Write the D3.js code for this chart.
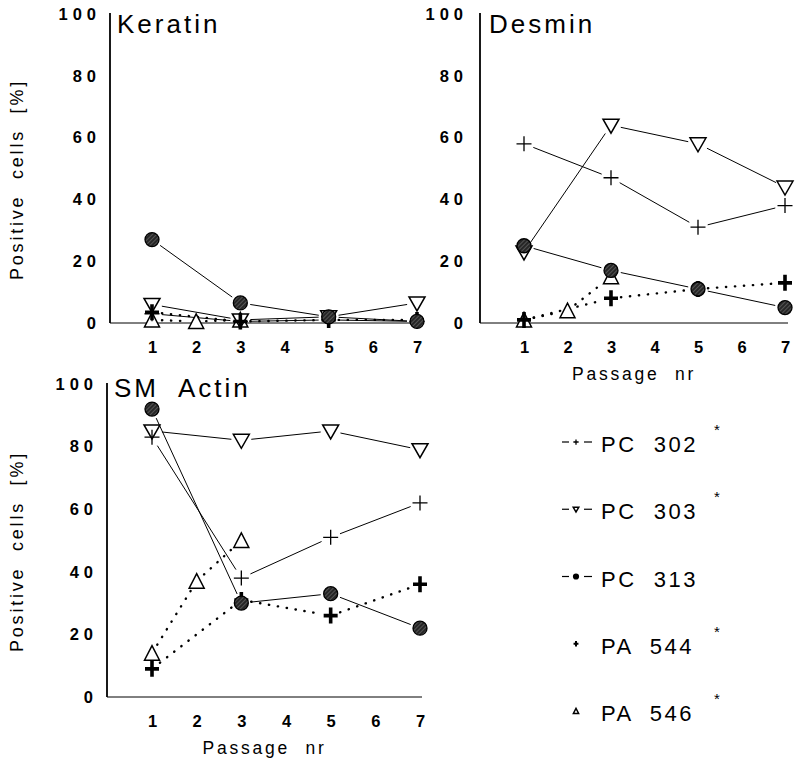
<!DOCTYPE html>
<html>
<head>
<meta charset="utf-8">
<script src="https://cdn.jsdelivr.net/npm/d3@7"></script>
<style>
  html, body { margin: 0; padding: 0; background: #fff; }
  svg { display: block; }
  text { font-family: "Liberation Sans", Arial, Helvetica, sans-serif; fill: #000; }
</style>
</head>
<body>
<svg id="chart" width="795" height="767"></svg>
<script>
// ---------------- data ----------------
const xTickValues = [1, 2, 3, 4, 5, 6, 7];
const yTickValues = [0, 20, 40, 60, 80, 100];
const passagesMain = [1, 3, 5, 7];      // PC 302, PC 303, PC 313, PA 544
const passages546 = [1, 2, 3];          // PA 546

const seriesNames = ["PC 302", "PC 303", "PC 313", "PA 544", "PA 546"];

// Keratin
const keratinPC302 = [3, 0.5, 1, 0.5];
const keratinPC303 = [6, 1, 2, 6.5];
const keratinPC313 = [27, 6.5, 2, 0.5];
const keratinPA544 = [3.5, 0.5, 1, 1];
const keratinPA546 = [1, 0.5, 1];

// Desmin
const desminPC302 = [58, 47, 31, 38];
const desminPC303 = [23, 64, 58, 44];
const desminPC313 = [25, 17, 11, 5];
const desminPA544 = [1, 8, 11, 13];
const desminPA546 = [1, 4, 15];

// SM Actin
const actinPC302 = [83, 38, 51, 62];
const actinPC303 = [85, 82, 85, 79];
const actinPC313 = [92, 30, 33, 22];
const actinPA544 = [9, 31, 26, 36];
const actinPA546 = [14, 37, 50];

// ---------------- styles ----------------
const seriesStyle = {
  "PC 302": { marker: "plus",   dash: null, star: true },
  "PC 303": { marker: "tridown", dash: null, star: true },
  "PC 313": { marker: "circle", dash: null, star: false },
  "PA 544": { marker: "bold",   dash: "0.3,8.7", star: true },
  "PA 546": { marker: "triup",  dash: "0.3,8.7", star: true }
};
const drawOrder = ["PA 546", "PC 303", "PC 302", "PA 544", "PC 313"];

const panels = [
  { title: "Keratin", titleX: 117, titleY: 33, axisX: 110, yTop: 14, yBot: 323, x1: 152, x7: 417, xEnd: 420,
    yLabel: true, xLabel: false,
    data: { "PC 302": keratinPC302, "PC 303": keratinPC303, "PC 313": keratinPC313, "PA 544": keratinPA544, "PA 546": keratinPA546 } },
  { title: "Desmin", titleX: 489, titleY: 33, axisX: 480, yTop: 14, yBot: 323, x1: 524, x7: 785, xEnd: 788,
    yLabel: false, xLabel: true,
    data: { "PC 302": desminPC302, "PC 303": desminPC303, "PC 313": desminPC313, "PA 544": desminPA544, "PA 546": desminPA546 } },
  { title: "SM  Actin", titleX: 114, titleY: 397, axisX: 107, yTop: 384, yBot: 697, x1: 152, x7: 420, xEnd: 422,
    yLabel: true, xLabel: true,
    data: { "PC 302": actinPC302, "PC 303": actinPC303, "PC 313": actinPC313, "PA 544": actinPA544, "PA 546": actinPA546 } }
];

const svg = d3.select("#chart");

// hatched fill for the filled circles
const defs = svg.append("defs");
const pat = defs.append("pattern").attr("id", "hatch").attr("patternUnits", "userSpaceOnUse")
  .attr("width", 3).attr("height", 3).attr("patternTransform", "rotate(45)");
pat.append("rect").attr("width", 3).attr("height", 3).attr("fill", "#262626");
pat.append("line").attr("x1", 0).attr("y1", 0).attr("x2", 0).attr("y2", 3)
  .attr("stroke", "#8c8c8c").attr("stroke-width", 0.9);

function markerPath(kind, s) {
  switch (kind) {
    case "plus":    return `M${-7.5*s},0H${7.5*s}M0,${-7.5*s}V${7.5*s}`;
    case "bold":    return `M${-7*s},0H${7*s}M0,${-8*s}V${8*s}`;
    case "tridown": return `M${-8*s},${-6*s}L${8*s},${-6*s}L0,${8*s}Z`;
    case "triup":   return `M${-7.5*s},${7*s}L${7.5*s},${7*s}L0,${-7.5*s}Z`;
  }
  return "";
}

function drawMarker(g, kind, x, y, s) {
  if (kind === "circle") {
    g.append("circle").attr("cx", x).attr("cy", y).attr("r", 7 * s)
      .attr("fill", s < 0.5 ? "#000" : "url(#hatch)").attr("stroke", "#000").attr("stroke-width", 1.3);
    return;
  }
  const p = g.append("path").attr("transform", `translate(${x},${y})`).attr("d", markerPath(kind, s));
  if (kind === "plus") p.attr("fill", "none").attr("stroke", "#000").attr("stroke-width", 1.3);
  if (kind === "bold") p.attr("fill", "none").attr("stroke", "#000").attr("stroke-width", s < 0.5 ? 2 : 3.6);
  if (kind === "tridown" || kind === "triup") p.attr("fill", "#fff").attr("stroke", "#000").attr("stroke-width", 1.5);
}

panels.forEach(pn => {
  const g = svg.append("g");
  const x = d3.scaleLinear().domain([1, 7]).range([pn.x1, pn.x7]);
  const y = d3.scaleLinear().domain([0, 100]).range([pn.yBot, pn.yTop]);

  // y axis
  const yAxis = d3.axisLeft(y).tickValues(yTickValues).tickSize(0).tickPadding(9).tickFormat(d3.format("d"));
  const ya = g.append("g").attr("transform", `translate(${pn.axisX},0)`).call(yAxis);
  ya.select(".domain").attr("stroke", "#000").attr("stroke-width", 1.8).attr("d", `M0,${pn.yTop - 1}V${pn.yBot}`);
  ya.selectAll(".tick text").attr("font-size", 16.5).attr("font-weight", "bold")
    .attr("font-family", "Liberation Sans, Arial, sans-serif").style("letter-spacing", "5px")
    .attr("dx", pn.axisX > 400 ? -3 : 0);

  // x axis
  const xAxis = d3.axisBottom(x).tickValues(xTickValues).tickSize(0).tickPadding(18).tickFormat(d3.format("d"));
  const xa = g.append("g").attr("transform", `translate(0,${pn.yBot})`).call(xAxis);
  xa.select(".domain").attr("stroke", "#000").attr("stroke-width", 1).attr("d", `M${pn.axisX},0H${pn.xEnd}`);
  xa.selectAll(".tick text").attr("font-size", 16.5).attr("font-weight", "bold")
    .attr("font-family", "Liberation Sans, Arial, sans-serif");

  // title
  g.append("text").attr("x", pn.titleX).attr("y", pn.titleY).attr("font-size", 26)
    .style("letter-spacing", "3px").style("white-space", "pre").text(pn.title);

  if (pn.yLabel) {
    const cy = (pn.yTop + pn.yBot) / 2 + 11;
    g.append("text").attr("transform", `translate(23,${cy}) rotate(-90)`)
      .attr("text-anchor", "middle").attr("font-size", 18).style("letter-spacing", "2.8px")
      .style("white-space", "pre").text("Positive  cells  [%]");
  }
  if (pn.xLabel) {
    g.append("text").attr("x", (pn.axisX + pn.xEnd) / 2).attr("y", pn.yBot + 57)
      .attr("text-anchor", "middle").attr("font-size", 17.5).style("letter-spacing", "2.8px")
      .style("white-space", "pre").text("Passage  nr");
  }

  // lines (shortened so they stop before the markers)
  drawOrder.forEach(name => {
    const st = seriesStyle[name];
    const xs = name === "PA 546" ? passages546 : passagesMain;
    const vals = pn.data[name];
    const pts = vals.map((v, i) => [x(xs[i]), y(v)]);
    const gap = 10;
    for (let i = 0; i < pts.length - 1; i++) {
      const [ax, ay] = pts[i], [bx, by] = pts[i + 1];
      const dx = bx - ax, dy = by - ay, len = Math.hypot(dx, dy);
      if (len <= 2 * gap + 2) continue;
      const ux = dx / len, uy = dy / len;
      const ln = g.append("line")
        .attr("x1", ax + ux * gap).attr("y1", ay + uy * gap)
        .attr("x2", bx - ux * gap).attr("y2", by - uy * gap)
        .attr("stroke", "#000").attr("stroke-width", st.dash ? 2.4 : 1);
      if (st.dash) ln.attr("stroke-dasharray", st.dash).attr("stroke-linecap", "round");
    }
  });

  // markers
  drawOrder.forEach(name => {
    const st = seriesStyle[name];
    const xs = name === "PA 546" ? passages546 : passagesMain;
    pn.data[name].forEach((v, i) => drawMarker(g, st.marker, x(xs[i]), y(v), 1));
  });
});

// ---------------- legend ----------------
const legendBase = d3.scaleLinear().domain([0, 4]).range([452, 721]);
const lg = svg.append("g");
seriesNames.forEach((name, i) => {
  const st = seriesStyle[name];
  const by = legendBase(i);
  const my = by - 10;
  const mx = 576;
  if (!st.dash) {
    lg.append("line").attr("x1", 562).attr("x2", 569).attr("y1", my).attr("y2", my).attr("stroke", "#000").attr("stroke-width", 1.2);
    lg.append("line").attr("x1", 584).attr("x2", 592).attr("y1", my).attr("y2", my).attr("stroke", "#000").attr("stroke-width", 1.2);
  }
  drawMarker(lg, st.marker, mx, my, 0.35);
  lg.append("text").attr("x", 601).attr("y", by).attr("font-size", 22)
    .style("letter-spacing", "2.5px").style("white-space", "pre").text(name.replace(" ", "  "));
  if (st.star) {
    lg.append("text").attr("x", 717).attr("y", by - 17).attr("font-size", 15)
      .attr("text-anchor", "middle").text("*");
  }
});
</script>
</body>
</html>
